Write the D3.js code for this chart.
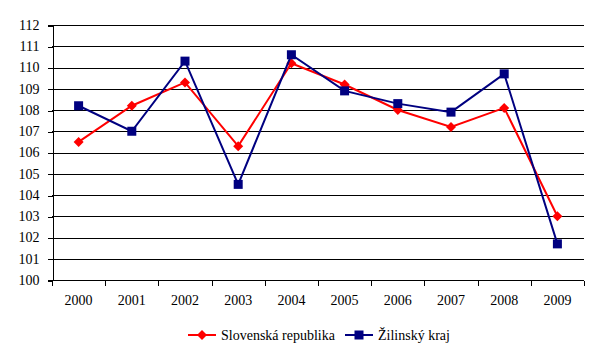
<!DOCTYPE html>
<html>
<head>
<meta charset="utf-8">
<script src="https://cdn.jsdelivr.net/npm/d3@7"></script>
<style>
  body { margin: 0; background: #fff; }
  svg text { font-family: "Liberation Serif", "Times New Roman", serif; font-size: 14px; fill: #000; }
</style>
</head>
<body>
<div id="chart"></div>
<script>
// data
var years = ["2000", "2001", "2002", "2003", "2004", "2005", "2006", "2007", "2008", "2009"];
var slovenska = [106.5, 108.2, 109.3, 106.3, 110.2, 109.2, 108.0, 107.2, 108.1, 103.0];
var zilinsky = [108.2, 107.0, 110.3, 104.5, 110.6, 108.9, 108.3, 107.9, 109.7, 101.7];
var yTicks = [100, 101, 102, 103, 104, 105, 106, 107, 108, 109, 110, 111, 112];

var series = [
  { name: "Slovenská republika", values: slovenska, color: "#ff0000", marker: "diamond" },
  { name: "Žilinský kraj", values: zilinsky, color: "#000080", marker: "square" }
];

var width = 600, height = 351;
var plotLeft = 52, plotRight = 584, plotTop = 25, plotBottom = 280;
var fontFamily = "'Liberation Serif', 'Times New Roman', serif";

var svg = d3.select("#chart").append("svg")
  .attr("width", width)
  .attr("height", height);

var x = d3.scaleBand().domain(years).range([plotLeft, plotRight]);
var y = d3.scaleLinear().domain([100, 112]).range([plotBottom, plotTop]);

// gridlines
svg.append("g")
  .selectAll("line")
  .data(yTicks.slice(1))
  .enter().append("line")
  .attr("x1", plotLeft).attr("x2", plotRight)
  .attr("y1", d => Math.round(y(d)) + 0.5)
  .attr("y2", d => Math.round(y(d)) + 0.5)
  .attr("stroke", "#000")
  .attr("shape-rendering", "crispEdges");

// y axis
var yAxis = svg.append("g")
  .attr("transform", "translate(" + (plotLeft + 0.5) + ",0)")
  .call(d3.axisLeft(y).tickValues(yTicks).tickSize(5).tickPadding(8).tickFormat(d3.format("d")));
yAxis.attr("font-family", fontFamily).attr("font-size", 14);
yAxis.selectAll("path, line").attr("stroke", "#000").attr("shape-rendering", "crispEdges");
yAxis.selectAll(".tick line").attr("transform", "translate(0,0.5)");
yAxis.selectAll("text").attr("fill", "#000");

// x axis with ticks between categories
var xAxis = svg.append("g")
  .attr("transform", "translate(0," + (Math.round(plotBottom) + 0.5) + ")")
  .attr("font-family", fontFamily).attr("font-size", 14);
xAxis.append("line")
  .attr("x1", plotLeft).attr("x2", plotRight)
  .attr("stroke", "#000").attr("shape-rendering", "crispEdges");
xAxis.selectAll("line.tick")
  .data(years.map(d => x(d)).concat([plotRight]))
  .enter().append("line")
  .attr("class", "tick")
  .attr("x1", d => Math.round(d) + 0.5).attr("x2", d => Math.round(d) + 0.5)
  .attr("y1", 0).attr("y2", 5)
  .attr("stroke", "#000").attr("shape-rendering", "crispEdges");
xAxis.selectAll("text")
  .data(years)
  .enter().append("text")
  .attr("x", d => x(d) + x.bandwidth() / 2)
  .attr("y", 24)
  .attr("text-anchor", "middle")
  .text(d => d);

var line = d3.line()
  .x((d, i) => x(years[i]) + x.bandwidth() / 2)
  .y(d => y(d));

function drawMarker(g, type, color, cx, cy) {
  if (type === "square") {
    g.append("rect")
      .attr("x", cx - 4.5).attr("y", cy - 4.5)
      .attr("width", 9).attr("height", 9)
      .attr("fill", color);
  } else {
    var r = 5;
    g.append("path")
      .attr("d", "M" + cx + "," + (cy - r) + "L" + (cx + r) + "," + cy + "L" + cx + "," + (cy + r) + "L" + (cx - r) + "," + cy + "Z")
      .attr("fill", color);
  }
}

// series lines and markers
series.forEach(function (s) {
  var g = svg.append("g");
  g.append("path")
    .datum(s.values)
    .attr("fill", "none")
    .attr("stroke", s.color)
    .attr("stroke-width", 2)
    .attr("d", line);
  s.values.forEach(function (v, i) {
    drawMarker(g, s.marker, s.color, x(years[i]) + x.bandwidth() / 2, y(v));
  });
});

// legend
var legendY = 335;
var legendX = [188, 345];
series.forEach(function (s, i) {
  var g = svg.append("g").attr("font-family", fontFamily).attr("font-size", 14);
  g.append("line")
    .attr("x1", legendX[i]).attr("x2", legendX[i] + 28)
    .attr("y1", legendY).attr("y2", legendY)
    .attr("stroke", s.color).attr("stroke-width", 2);
  drawMarker(g, s.marker, s.color, legendX[i] + 14, legendY);
  g.append("text")
    .attr("x", legendX[i] + 33)
    .attr("y", legendY + 5)
    .text(s.name);
});
</script>
</body>
</html>
